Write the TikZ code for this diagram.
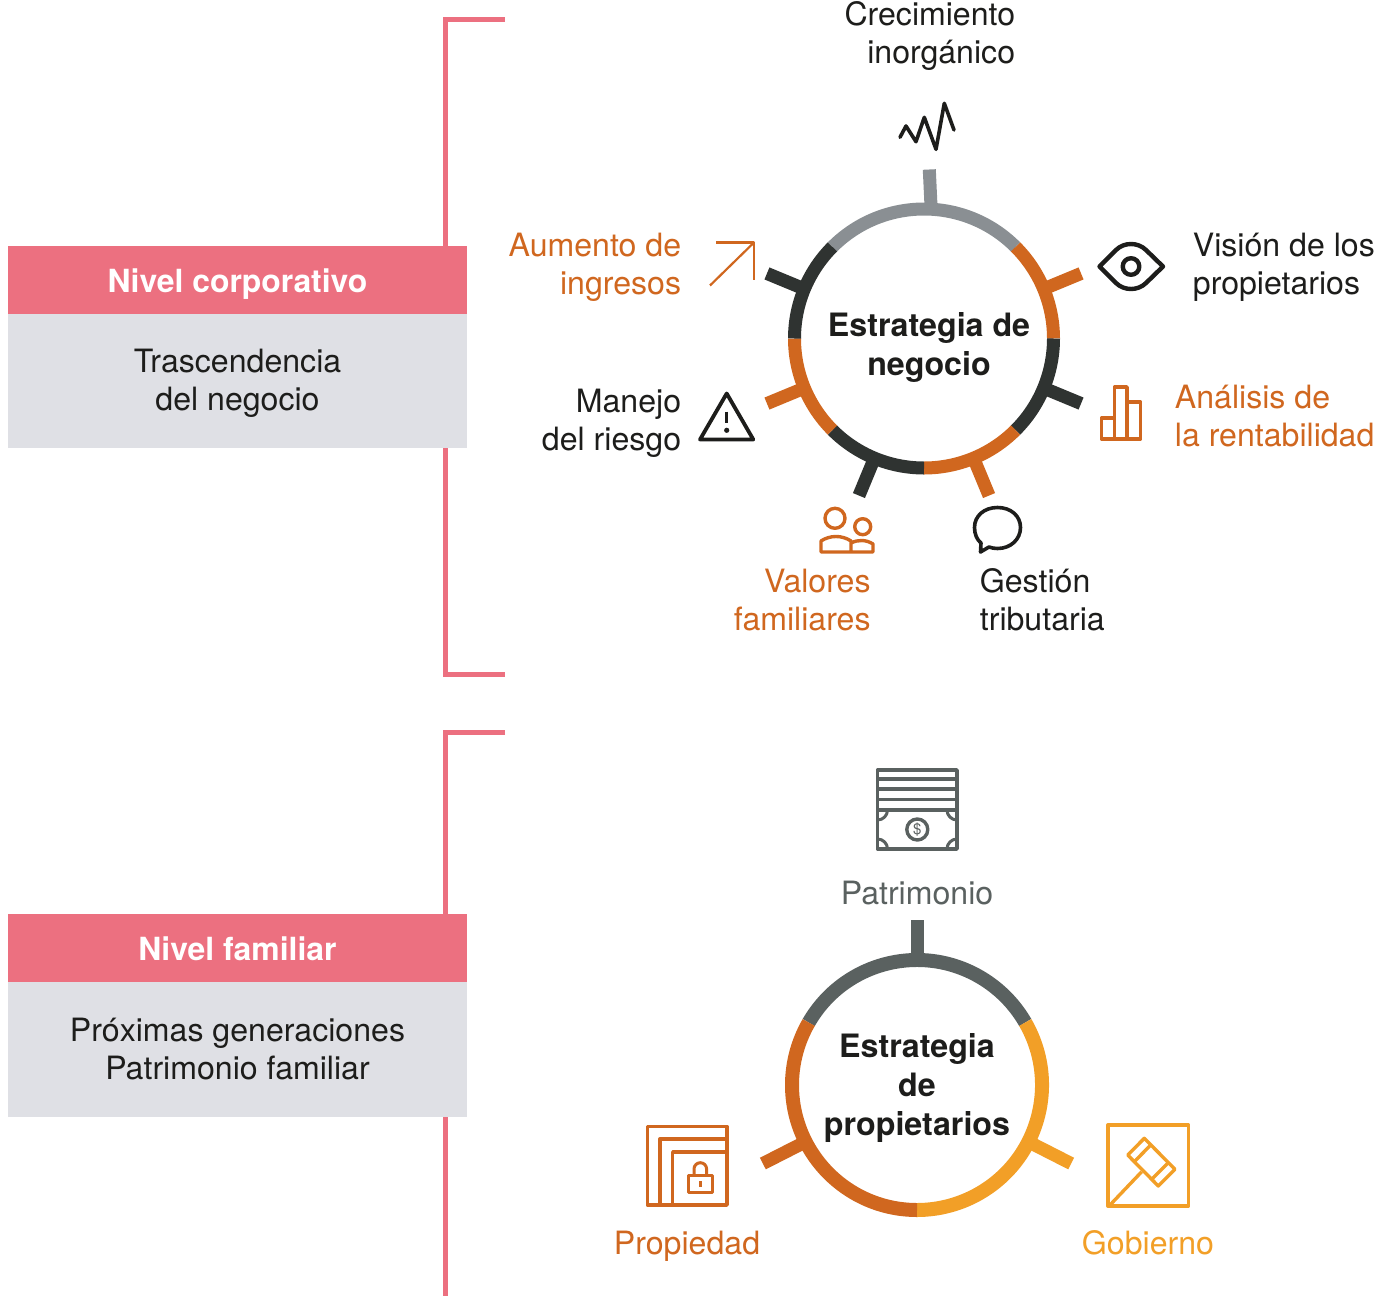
\documentclass[tikz,border=0pt]{standalone}
\usepackage{fontspec}
\setmainfont{TeX Gyre Heros}
\definecolor{naranja}{HTML}{D0671F}
\definecolor{oscuro}{HTML}{2F3331}
\definecolor{gris}{HTML}{8A8F93}
\definecolor{ambar}{HTML}{F29F27}
\definecolor{pizarra}{HTML}{5A6160}
\definecolor{rosa}{HTML}{EC7080}
\definecolor{claro}{HTML}{DFE0E5}
\definecolor{tinta}{HTML}{1D1D1B}
\tikzset{
	texto/.style={font=\fontsize{16.05}{19}\selectfont, text=tinta, inner sep=0pt},
	negrita/.style={texto, font=\fontsize{16.1}{19.3}\selectfont\bfseries},
	titulo/.style={texto, font=\fontsize{15.95}{19}\selectfont\bfseries, text=white},
	anillo/.style={line width=6.5pt},
	anillob/.style={line width=7pt},
	icono/.style={line width=1.7pt, line join=round},
	corchete/.style={line width=2.5pt, rosa}
}
\begin{document}
\begin{tikzpicture}[x=0.5pt, y=-0.5pt]
	\useasboundingbox (0,0) rectangle (1377,1296);
	\draw [corchete] (505,19) -- (445,19) -- (445,246);
	\draw [corchete] (445,448) -- (445,674) -- (505,674);
	\draw [corchete] (505,732) -- (445,732) -- (445,914);
	\draw [corchete] (445,1117) -- (445,1296);
	\fill [rosa] (8,246) rectangle (467,314);
	\fill [claro] (8,314) rectangle (467,448);
	\fill [rosa] (8,914) rectangle (467,982);
	\fill [claro] (8,982) rectangle (467,1117);
	\node[titulo, anchor=base] (corporativo) at (237.5,292) {Nivel corporativo};
	\node[texto, align=center, anchor=base] (trascendencia) at (237.5,410) {Trascendencia\\del negocio};
	\node[titulo, anchor=base] (familiar) at (237.5,960) {Nivel familiar};
	\node[texto, align=center, anchor=base] (proximas) at (237.5,1079) {Próximas generaciones\\Patrimonio familiar};
	\begin{scope}[shift={(924,338.5)}]
		\draw [anillo, gris] (-135:129.5) arc[start angle=-135, end angle=-45, radius=129.5];
		\draw [anillo, naranja] (-45:129.5) arc[start angle=-45, end angle=0, radius=129.5];
		\draw [anillo, oscuro] (0:129.5) arc[start angle=0, end angle=45, radius=129.5];
		\draw [anillo, naranja] (45:129.5) arc[start angle=45, end angle=90, radius=129.5];
		\draw [anillo, oscuro] (90:129.5) arc[start angle=90, end angle=135, radius=129.5];
		\draw [anillo, naranja] (135:129.5) arc[start angle=135, end angle=180, radius=129.5];
		\draw [anillo, oscuro] (180:129.5) arc[start angle=180, end angle=225, radius=129.5];
		\draw [anillo, naranja] (-22.5:128) -- (-22.5:170);
		\draw [anillo, oscuro] (22.5:128) -- (22.5:170);
		\draw [anillo, naranja] (67.5:128) -- (67.5:170);
		\draw [anillo, oscuro] (112.5:128) -- (112.5:170);
		\draw [anillo, naranja] (157.5:128) -- (157.5:170);
		\draw [anillo, oscuro] (202.5:128) -- (202.5:170);
	\end{scope}
	\draw [anillo, gris] (931,206) -- (929.3,169.5);
	\node[negrita, align=center, anchor=base] (negocio) at (929,375) {Estrategia de\\negocio};
	\node[texto, align=right, anchor=base east] (crecimiento) at (1015.5,63) {Crecimiento\\inorgánico};
	\node[texto, text=naranja, align=right, anchor=base east] (aumento) at (681.5,294) {Aumento de\\ingresos};
	\node[texto, align=left, anchor=base west] (vision) at (1192.5,294) {Visión de los\\propietarios};
	\node[texto, text=naranja, align=left, anchor=base west] (analisis) at (1174.5,446) {Análisis de\\la rentabilidad};
	\node[texto, align=right, anchor=base east] (manejo) at (681.5,450) {Manejo\\del riesgo};
	\node[texto, text=naranja, align=right, anchor=base east] (valores) at (871,630) {Valores\\familiares};
	\node[texto, align=left, anchor=base west] (gestion) at (979.5,630) {Gestión\\tributaria};
	\draw [icono, tinta, line width=1.8pt, line cap=round] (900,137.3) -- (906,126) -- (916,141.7) -- (924.3,117.3) -- (936,149.3) -- (944.3,103.3) -- (954,130);
	\draw [icono, naranja, line width=1.1pt] (710,285.5) -- (754,242.5);
	\draw [icono, naranja, line width=1.1pt] (716,242.5) -- (754,242.5) -- (754,280);
	\draw [icono, tinta, line width=2.2pt] (1099.5,266.5) -- (1116,250) .. controls (1124,242) and (1138,242) .. (1146,250) -- (1163,266.5) -- (1146,283) .. controls (1138,291) and (1124,291) .. (1116,283) -- cycle;
	\draw [icono, tinta, line width=2.2pt] (1131,266.5) circle (8.3);
	\draw [icono, naranja] (1101.5,439) rectangle (1114.5,418);
	\draw [icono, naranja] (1114.5,439) rectangle (1127,387);
	\draw [icono, naranja] (1127,439) rectangle (1140.5,402);
	\draw [icono, tinta, line width=1.9pt] (726.7,393.5) -- (700,439.5) -- (753.3,439.5) -- cycle;
	\draw [icono, tinta, line width=1.7pt] (726.7,411.5) -- (726.7,423);
	\fill [tinta] (726.7,430.3) circle (2.6);
	\draw [icono, naranja] (835,518.3) circle (10);
	\draw [icono, naranja] (862.7,526.7) circle (8);
	\draw [icono, naranja] (851,552) -- (821,552) -- (821,541) .. controls (830,535) and (842,535) .. (851,541) -- (851,552) -- (873,552) -- (873,544) .. controls (866,539.5) and (858,539.5) .. (851,543);
	\draw [icono, tinta, line width=1.8pt] (989,547) .. controls (992,548) and (994,548.5) .. (997.5,548.5) .. controls (1011,548.5) and (1020.5,539) .. (1020.5,527.5) .. controls (1020.5,516) and (1011,507.5) .. (997.5,507.5) .. controls (984,507.5) and (974.5,516) .. (974.5,527.5) .. controls (974.5,534) and (977,540) .. (981,543) -- (980.5,552) -- cycle;
	\begin{scope}[shift={(917,1085)}]
		\draw [anillob, pizarra] (-150:125) arc[start angle=-150, end angle=-30, radius=125];
		\draw [anillob, ambar] (-30:125) arc[start angle=-30, end angle=90, radius=125];
		\draw [anillob, naranja] (90:125) arc[start angle=90, end angle=210, radius=125];
		\draw [anillo, ambar] (27:124) -- (27:173);
		\draw [anillo, naranja] (153:124) -- (153:173);
	\end{scope}
	\draw [anillo, pizarra] (917,958) -- (917,920);
	\node[negrita, align=center, anchor=base] (propietarios) at (917,1135) {Estrategia\\de\\propietarios};
	\node[texto, text=pizarra, anchor=base] (patrimonio) at (917,904) {Patrimonio};
	\node[texto, text=naranja, anchor=base] (propiedad) at (687,1254) {Propiedad};
	\node[texto, text=ambar, anchor=base] (gobierno) at (1148,1254) {Gobierno};
	\draw [icono, pizarra, line width=1.9pt] (877.5,770) rectangle (957,849);
	\draw [icono, pizarra, line width=1.9pt] (877.5,779) -- (957,779);
	\draw [icono, pizarra, line width=1.9pt] (877.5,789.3) -- (957,789.3);
	\draw [icono, pizarra, line width=1.9pt] (877.5,799.5) -- (957,799.5);
	\draw [icono, pizarra, line width=1.9pt] (877.5,810) -- (957,810);
	\draw [icono, pizarra, line width=1.5pt] (887.5,810) arc[start angle=0, end angle=90, radius=10];
	\draw [icono, pizarra, line width=1.5pt] (947,810) arc[start angle=180, end angle=90, radius=10];
	\draw [icono, pizarra, line width=1.5pt] (887.5,849) arc[start angle=0, end angle=-90, radius=10];
	\draw [icono, pizarra, line width=1.5pt] (947,849) arc[start angle=180, end angle=270, radius=10];
	\draw [icono, pizarra] (917.3,829.5) circle (10.5);
	\node[texto, text=pizarra, font=\fontsize{7.5}{8}\selectfont] (dolar) at (917.3,829.5) {\$};
	\draw [icono, naranja] (647.3,1126.5) rectangle (727,1205);
	\draw [icono, naranja] (727,1139) -- (660,1139) -- (660,1205);
	\draw [icono, naranja] (727,1152) -- (672.7,1152) -- (672.7,1205);
	\draw [icono, naranja, line width=1.5pt] (688,1175) rectangle (712.5,1192.5);
	\draw [icono, naranja, line width=1.5pt] (694,1175) -- (694,1169) arc[start angle=180, end angle=360, radius=6.3] -- (706.6,1175);
	\fill [naranja] (698.5,1181) rectangle (701.5,1187);
	\draw [icono, ambar] (1108,1125) rectangle (1188.5,1206);
	\draw [icono, ambar] (1110,1205) -- (1141.7,1171.7);
	\draw [icono, ambar] (1127.7,1155) -- (1144.3,1138.3) -- (1175,1169.3) -- (1158.3,1186) -- cycle;
	\draw [icono, ambar] (1134.3,1161.7) -- (1150.7,1145);
	\draw [icono, ambar] (1168.3,1162.7) -- (1152,1179);
\end{tikzpicture}
\end{document}
